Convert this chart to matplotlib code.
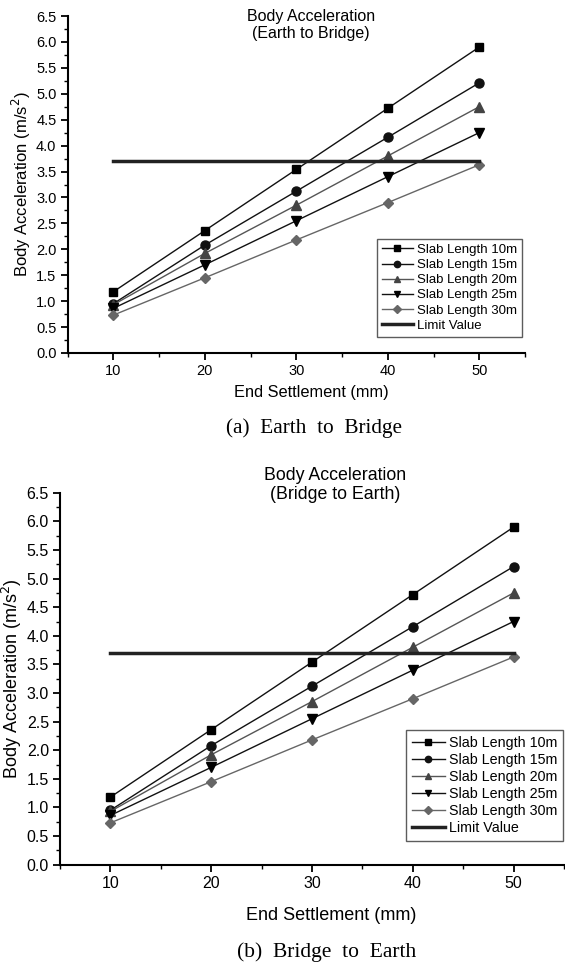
import numpy as np
import matplotlib.pyplot as plt
from matplotlib.ticker import MultipleLocator

# 数据
settlement = [10, 20, 30, 40, 50]
slab_10 = [1.18, 2.36, 3.54, 4.72, 5.90]
slab_15 = [0.95, 2.08, 3.12, 4.16, 5.21]
slab_20 = [0.93, 1.92, 2.85, 3.80, 4.75]
slab_25 = [0.86, 1.70, 2.55, 3.40, 4.25]
slab_30 = [0.73, 1.45, 2.18, 2.90, 3.63]
limit_value = 3.7

labels = ['Slab Length 10m', 'Slab Length 15m', 'Slab Length 20m',
          'Slab Length 25m', 'Slab Length 30m']
series = [slab_10, slab_15, slab_20, slab_25, slab_30]
markers = ['s', 'o', '^', 'v', 'D']
line_colors = ['#111111', '#111111', '#555555', '#111111', '#666666']
marker_colors = ['#000000', '#111111', '#444444', '#000000', '#666666']
marker_sizes = [6, 6.5, 7, 7, 5.5]

plt.rcParams['font.family'] = ['Liberation Sans', 'DejaVu Sans']

fig = plt.figure(figsize=(5.65, 9.65), dpi=100)


def draw_panel(ax, fs, lab_fs, leg_fs, leg_anchor):
    for ys, lab, m, lc, mc, ms in zip(series, labels, markers, line_colors, marker_colors, marker_sizes):
        ax.plot(settlement, ys, color=lc, lw=1.0, marker=m, ms=ms,
                markerfacecolor=mc, markeredgecolor=mc, label=lab)
    ax.plot([settlement[0], settlement[-1]], [limit_value, limit_value],
            color='#222222', lw=2.5, label='Limit Value')

    ax.set_xlim(5, 55)
    ax.set_ylim(0, 6.5)
    ax.xaxis.set_major_locator(MultipleLocator(10))
    ax.xaxis.set_minor_locator(MultipleLocator(5))
    ax.yaxis.set_major_locator(MultipleLocator(0.5))
    ax.yaxis.set_minor_locator(MultipleLocator(0.25))
    ax.yaxis.set_major_formatter(plt.FuncFormatter(lambda v, p: f'{v:.1f}'))
    ax.spines['top'].set_visible(False)
    ax.spines['right'].set_visible(False)
    ax.spines['left'].set_linewidth(1.5)
    ax.spines['bottom'].set_linewidth(1.5)
    ax.tick_params(which='major', direction='out', length=5, width=1.3, labelsize=fs, pad=3)
    ax.tick_params(which='minor', direction='out', length=3, width=1.0)
    ax.set_ylabel('Body Acceleration (m/s$^2$)', fontsize=lab_fs, labelpad=2)

    leg = ax.legend(loc='lower right', bbox_to_anchor=leg_anchor,
                    bbox_transform=fig.transFigure, fontsize=leg_fs, borderaxespad=0,
                    frameon=True, fancybox=False, edgecolor='#333333',
                    handlelength=2.3, handletextpad=0.3, labelspacing=0.22,
                    borderpad=0.4, markerscale=0.7)
    leg.get_frame().set_linewidth(1.0)


W, H = 565, 965

# (a) Earth to Bridge
ax1 = fig.add_axes([67.5 / W, 1 - 353 / H, (525 - 67.5) / W, (353 - 16) / H])
draw_panel(ax1, 10.5, 12, 9.5, (522 / W, 1 - 337 / H))
fig.text(311 / W, 1 - 25 / H, 'Body Acceleration\n(Earth to Bridge)',
         ha='center', va='center', fontsize=11.5, linespacing=1.1)
fig.text(311 / W, 1 - 392 / H, 'End Settlement (mm)', ha='center', va='center', fontsize=11.8)
fig.text(314 / W, 1 - 428 / H, '(a)  Earth  to  Bridge', ha='center', va='center',
         fontsize=15.3, family='Liberation Serif')

# (b) Bridge to Earth
ax2 = fig.add_axes([60 / W, 1 - 864.6 / H, (564 - 60) / W, (864.6 - 492.8) / H])
draw_panel(ax2, 11.5, 13, 10.3, (563 / W, 1 - 841 / H))
fig.text(335 / W, 1 - 485 / H, 'Body Acceleration\n(Bridge to Earth)',
         ha='center', va='center', fontsize=12.8, linespacing=1.1)
fig.text(331 / W, 1 - 915 / H, 'End Settlement (mm)', ha='center', va='center', fontsize=13)
fig.text(327 / W, 1 - 952 / H, '(b)  Bridge  to  Earth', ha='center', va='center',
         fontsize=15.5, family='Liberation Serif')

fig.savefig('out.png', dpi=100)
